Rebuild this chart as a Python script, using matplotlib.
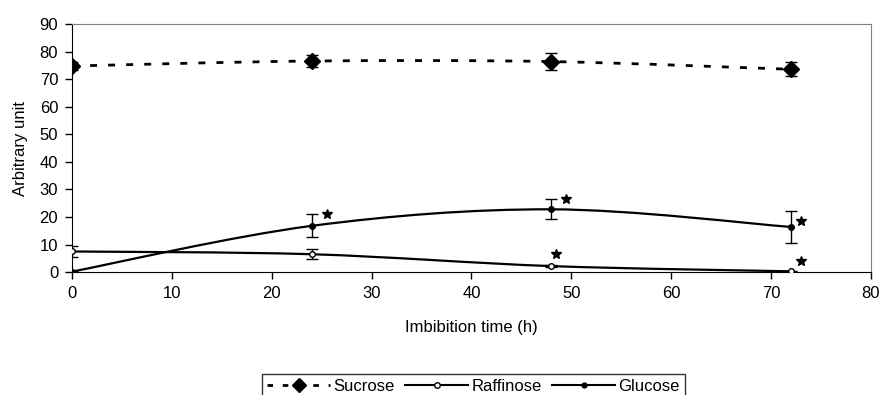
import matplotlib
matplotlib.use("Agg")
import matplotlib.pyplot as plt
import numpy as np
from matplotlib.path import Path
from matplotlib.patches import PathPatch
from matplotlib.lines import Line2D

plt.rcParams['font.family'] = ['Liberation Sans', 'DejaVu Sans']

# data
hours = [0, 24, 48, 72]
sucrose = [74.8, 76.6, 76.4, 73.6]
sucrose_err = [1.5, 2.2, 3.0, 2.5]
raffinose = [7.5, 6.5, 2.2, 0.3]
raffinose_err = [2.0, 1.8, 0.5, 0.2]
glucose = [0.2, 16.8, 22.8, 16.4]
glucose_err = [0.3, 4.2, 3.6, 5.8]
# significance stars (x, y)
star_x = [25.5, 49.5, 73.0, 48.5, 73.0]
star_y = [21.0, 26.5, 18.5, 6.5, 4.0]


def smooth_path(x, y):
    # Excel-like smoothed line: Catmull-Rom as cubic Bezier segments
    pts = np.column_stack([x, y]).astype(float)
    ext = np.vstack([pts[0], pts, pts[-1]])
    verts = [pts[0]]
    codes = [Path.MOVETO]
    for i in range(1, len(ext) - 2):
        p0, p1, p2, p3 = ext[i - 1], ext[i], ext[i + 1], ext[i + 2]
        verts += [p1 + (p2 - p0) / 6, p2 - (p3 - p1) / 6, p2]
        codes += [Path.CURVE4] * 3
    return Path(verts, codes)


fig = plt.figure(figsize=(8.85, 3.95), dpi=100)
ax = fig.add_axes([0.0814, 0.311, 0.9026, 0.628])

ax.add_patch(PathPatch(smooth_path(hours, sucrose), fill=False, lw=2,
                       ls=(0, (2.5, 4)), ec='black'))
ax.add_patch(PathPatch(smooth_path(hours, raffinose), fill=False, lw=1.6, ec='black'))
ax.add_patch(PathPatch(smooth_path(hours, glucose), fill=False, lw=1.6, ec='black'))

ax.errorbar(hours, sucrose, yerr=sucrose_err, fmt='D', ms=8, color='black',
            ecolor='black', elinewidth=1, capsize=4, capthick=1, zorder=3)
ax.errorbar(hours, raffinose, yerr=raffinose_err, fmt='o', ms=4, mfc='white',
            mec='black', ecolor='black', elinewidth=1, capsize=4, capthick=1, zorder=3)
ax.errorbar(hours, glucose, yerr=glucose_err, fmt='o', ms=4, color='black',
            ecolor='black', elinewidth=1, capsize=4, capthick=1, zorder=3)
ax.plot(star_x, star_y, '*', ms=7, color='black', ls='none', zorder=3)

ax.set_xlim(0, 80)
ax.set_ylim(0, 90)
ax.set_xticks(range(0, 81, 10))
ax.set_yticks(range(0, 91, 10))
ax.tick_params(labelsize=12, length=5, width=1, direction='out', pad=5)
for s in ['top', 'right']:
    ax.spines[s].set_color('#808080')
ax.spines['left'].set_color('black')
ax.spines['bottom'].set_color('black')

ax.set_xlabel('Imbibition time (h)', fontsize=12, labelpad=14)
ax.set_ylabel('Arbitrary unit', fontsize=12, labelpad=8)

handles = [
    Line2D([], [], color='black', lw=2, ls=(0, (2, 3.5)), marker='D', ms=7),
    Line2D([], [], color='black', lw=1.5, marker='o', ms=4, mfc='white'),
    Line2D([], [], color='black', lw=1.5, marker='o', ms=3.5),
]
leg = fig.legend(handles, ['Sucrose', 'Raffinose', 'Glucose'], loc='lower center',
                 bbox_to_anchor=(0.535, -0.03), ncol=3, fontsize=12, frameon=True,
                 fancybox=False, edgecolor='black', handlelength=3.8, handletextpad=0.2,
                 columnspacing=0.6, borderpad=0.3)
leg.get_frame().set_linewidth(1)

fig.savefig('out.png', dpi=100)
